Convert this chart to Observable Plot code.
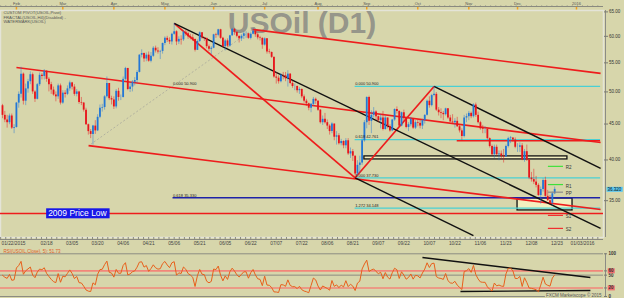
<!DOCTYPE html>
<html><head><meta charset="utf-8">
<script src="https://cdn.jsdelivr.net/npm/d3@7"></script>
<script src="https://cdn.jsdelivr.net/npm/@observablehq/plot@0.6"></script>
<style>
html,body{margin:0;padding:0;background:#d7d6ab;}
#wrap{position:relative;width:624px;height:298px;overflow:hidden;background:#d7d6ab;font-family:"Liberation Sans",Arial,sans-serif;}
#p1,#p2{position:absolute;left:0;}
#p1{top:0}#p2{top:248px}
svg{display:block}
</style></head><body>
<div id="wrap"><div id="p1"></div><div id="p2"></div></div>
<script>
// ---------- DATA (daily bars, index 0 = 01/22/2015) ----------
const firstOpen = 47.78;
const warmupCloses = [45.89, 48.48, 46.25, 48.69, 48.5, 46.39, 47.78];
const closes = [
46.3,45.6,45.2,46.2,44.4,44.5,48.2,
49.6,53.0,48.5,50.5,51.7,52.9,50.0,48.8,51.2,52.8,52.6,53.5,52.1,51.2,50.3,49.5,49.2,51.0,48.2,49.8,
49.6,50.5,51.5,50.8,49.6,50.0,48.3,48.2,47.1,44.9,43.9,43.5,44.7,44.0,46.0,47.4,47.5,49.2,51.4,48.9,48.7,47.6,
50.1,49.1,49.1,52.1,54.0,50.4,50.8,51.6,51.9,53.3,56.4,56.7,55.7,56.4,55.3,56.2,57.7,57.2,57.0,57.1,58.6,59.6,
59.2,58.9,60.4,60.9,58.9,59.4,59.3,60.8,60.5,59.9,59.7,59.4,57.3,59.0,60.7,59.7,59.6,58.0,57.5,57.7,60.3,
60.2,61.3,59.6,58.0,59.1,58.1,60.1,61.4,60.8,60.0,59.5,60.0,60.5,60.5,59.6,60.4,61.0,60.3,59.7,59.6,58.3,59.5,
57.0,56.9,56.0,52.5,52.3,51.7,52.8,52.7,52.2,53.0,51.4,50.9,50.9,50.2,50.4,49.2,48.5,48.1,47.4,48.0,48.8,48.5,47.1,
45.2,45.7,45.2,44.7,43.9,45.0,43.1,43.3,42.2,42.5,41.9,42.6,40.8,41.1,40.5,38.2,39.3,39.6,42.6,45.2,49.1,
45.4,46.3,46.8,46.1,45.5,45.9,44.2,45.9,44.6,44.0,45.6,47.2,46.9,44.7,46.7,45.8,44.5,44.9,45.7,44.4,45.2,45.1,
44.7,45.5,46.3,48.5,47.8,49.4,49.6,47.1,46.7,46.6,46.4,47.3,45.9,45.3,45.2,45.4,44.6,44.0,43.2,45.9,46.1,46.6,
46.1,47.9,46.3,45.2,44.3,44.2,44.2,42.9,41.8,40.7,41.7,40.7,40.8,40.5,40.4,41.8,42.9,43.0,42.7,41.7,41.7,
41.9,40.0,41.1,40.0,37.7,37.5,37.2,36.8,35.6,36.3,37.4,35.5,35.0,34.7,35.8,36.32];
const highs = [
48.0,46.9,46.3,46.5,46.5,44.9,48.3,
50.0,54.2,53.2,51.3,52.1,53.4,53.2,50.2,51.4,53.2,53.1,53.8,53.6,52.4,51.6,50.8,50.0,51.3,51.3,50.2,
50.2,51.0,51.8,51.6,51.2,50.4,50.1,49.1,48.3,47.4,45.0,44.2,44.8,45.5,46.4,47.9,48.0,49.4,52.5,51.4,49.3,49.2,
50.4,50.6,49.5,52.5,54.2,54.0,51.5,51.9,52.4,53.6,56.5,57.4,56.8,56.8,57.0,56.9,58.0,58.1,57.8,57.3,58.7,59.9,
60.0,59.7,60.6,62.6,61.1,59.9,60.1,61.1,61.2,60.9,60.4,60.3,59.5,59.3,60.9,60.7,59.8,59.6,58.3,58.0,60.4,
60.6,61.4,61.4,59.8,59.4,59.5,60.2,61.6,61.5,60.8,60.0,60.3,60.8,60.9,60.4,60.7,61.5,61.1,60.6,60.0,59.7,59.7,
59.4,57.5,57.0,55.6,53.3,52.7,53.1,53.3,53.3,53.6,53.1,51.8,51.3,51.0,50.7,50.5,49.5,48.8,48.2,48.1,49.1,49.0,48.6,
47.2,46.2,46.6,45.6,44.9,45.2,44.9,43.9,43.6,42.8,42.6,42.9,42.9,41.6,41.4,40.2,39.9,40.5,42.9,45.5,49.2,
49.3,47.0,47.5,47.0,46.2,46.4,46.9,46.2,45.8,44.9,45.7,47.3,47.6,47.0,46.8,47.1,46.0,45.2,46.0,45.8,45.5,45.6,
45.6,45.7,46.4,48.7,49.2,49.6,50.9,49.9,47.5,47.3,46.9,47.4,47.3,46.3,46.4,45.8,46.0,44.8,44.3,46.3,46.5,46.9,
46.8,48.1,48.2,46.8,45.4,44.8,44.6,44.3,43.0,42.0,42.0,42.0,41.2,41.2,41.4,42.0,43.1,43.2,43.0,43.0,42.2,
42.3,42.2,41.4,42.0,40.0,38.4,38.8,37.9,37.0,36.6,37.6,37.8,36.2,35.6,36.0,36.6];
const lows = [
45.8,45.2,44.4,44.9,44.2,43.6,44.4,
47.4,49.0,47.9,47.8,49.8,51.2,49.6,48.3,48.7,50.9,52.0,52.0,51.6,50.0,49.6,49.3,48.4,48.8,47.9,48.0,
49.0,49.4,50.1,50.3,49.3,49.2,48.0,47.8,46.8,44.8,43.4,42.9,42.0,43.5,43.9,45.8,46.8,47.1,49.0,48.6,47.9,47.2,
47.3,48.5,48.6,49.0,51.8,50.2,49.9,50.0,51.0,51.4,53.2,55.9,55.1,55.2,55.1,55.0,56.0,56.8,56.6,55.6,56.6,58.2,
58.8,58.4,58.3,60.2,58.2,58.4,58.3,59.0,60.0,59.4,59.3,59.0,57.0,57.4,58.8,59.4,59.0,57.6,57.1,56.5,57.6,
59.6,59.9,59.4,57.8,57.2,57.8,57.9,60.0,60.2,59.7,58.7,59.0,59.4,59.6,59.4,59.3,60.3,59.8,59.3,59.1,57.5,58.1,
56.6,56.6,55.8,52.3,51.3,51.3,51.5,52.0,51.7,50.8,51.2,50.6,50.2,49.8,49.6,48.9,48.2,47.7,47.0,46.7,47.7,48.0,46.9,
45.0,44.8,45.0,44.2,43.4,43.6,42.6,42.0,42.0,41.9,41.5,41.5,40.6,40.2,39.8,37.7,37.9,38.3,39.3,42.4,44.3,
44.8,43.6,45.9,45.5,45.2,44.3,44.0,44.1,44.3,43.8,43.9,45.4,46.5,44.6,44.6,45.4,44.3,43.9,44.6,44.2,44.2,44.6,
44.3,44.2,45.0,46.2,47.4,47.6,49.2,46.9,46.2,45.8,45.5,46.2,45.7,45.3,45.0,44.4,44.5,43.7,42.6,43.0,45.2,45.5,
45.8,45.9,46.0,45.0,44.1,43.6,43.6,42.7,41.6,40.5,40.2,40.5,39.9,40.0,39.6,40.9,41.6,42.2,42.4,41.5,41.0,
41.0,39.9,39.7,39.8,37.5,37.2,36.9,36.5,35.5,34.6,36.0,35.4,34.9,34.5,34.4,35.7];
const currentPrice = 36.32;

const dateTickIdx = [0,19,30,41,52,63,74,85,96,107,118,129,140,151,162,173,184,195,206,217,228,239,250];
const dateTickLabels = ["01/22/2015","02/18","03/05","03/20","04/06","04/21","05/06","05/21","06/05","06/22","07/07","07/22","08/06","08/21","09/07","09/22","10/07","10/22","11/06","11/23","12/08","12/23","01/03/2016"];
const monthTickIdx = [6,26,48,70,91,113,136,157,179,201,222,247.4];
const monthTickLabels = ["Feb","Mar","Apr","May","Jun","Jul","Aug","Sep","Oct","Nov","Dec","2016"];
const priceTicks = [35,40,45,50,55,60,65];

// drawn studies (anchor bar index, price)
const trendKind = ["red","red","red","red","red","black","black","black","dash"];
const trendX1 = [107.8, 6.0, 37.1, 74, 152, 74, 152, 186, 38];
const trendY1 = [61.36, 54.17, 41.93, 62.6, 37.73, 62.6, 37.73, 50.9, 42.1];
const trendX2 = [257.8, 257.8, 257.8, 152, 186, 257.8, 203, 257.8, 107.8];
const trendY2 = [53.12, 42.36, 34.0, 37.73, 50.9, 31.96, 31.2, 38.9, 61.36];

const fibRLevels = [50.9, 42.761, 37.73, 34.148];
const fibRLabels = ["0.000 50.900","0.618 42.761","1.000 37.730","1.272 34.148"];
const fibRStart = 152;
const fibLLevels = [50.9, 35.33];
const fibLLabels = ["0.000 50.900","0.618 35.330"];
const fibLStart = 73.5;
const extLevel = 35.33;
const lowLevel = 33.55, lowLabel = "2009 Price Low", lowLabelX = 32.3;
const resLevel = 42.6, resStart = 196;
const edgeX = 257.8;

const zoneX1 = [156, 222], zoneX2 = [243.5, 245.7], zoneLo = [40.07, 33.9], zoneHi = [40.47, 35.25];

const pivotLabels = ["R2","R1","PP","S1","S2"];
const pivotLevels = [39.17, 36.9, 35.99, 33.35, 31.96];
const pivotKind = ["r","r","p","s","s"];
const pivotX1 = 235.3, pivotX2 = 241.8, pivotLabelX = 242.8;

const infoLines = ["CUSTOM PIVOT(USOIL,Pivot)","FRACTAL(USOIL,H4)(Disabled) -","WATERMARK(USOIL)"];
const watermark = "USOil (D1)";

const rsiPeriod = 5;
const rsiLevels = [60, 20];
const rsiGrid = [100, 50, 0];
const rsiTickVals = [100, 50, 0];
const rsiTrendX1 = [181, 197.4], rsiTrendY1 = [91.3, 11.7], rsiTrendX2 = [253.4, 253.4], rsiTrendY2 = [44.5, 14];
const rsiHeader = "RSI(USOIL,Close), 5): 51.73";
const copyright = "FXCM Marketscope \u00a9 2015";

// ---------- BUILD ----------
const X0 = -0.862, X1 = 259.05, Y0 = 31.02, Y1 = 65.30;
const UP = "#2377d6", DN = "#e8141b";
const candles = closes.map((c, i) => {
  const o = i ? closes[i - 1] : firstOpen;
  return {i, o, c, h: Math.max(highs[i], o, c), l: Math.min(lows[i], o, c), col: c >= o ? UP : DN};
});
const trends = trendKind.map((k, j) => ({k, x1: trendX1[j], y1: trendY1[j], x2: trendX2[j], y2: trendY2[j]}));
const zones = zoneX1.map((x, j) => ({x1: x, x2: zoneX2[j], y1: zoneLo[j], y2: zoneHi[j]}));
const pivots = pivotLabels.map((t, j) => ({t, p: pivotLevels[j], k: pivotKind[j]}));
const pivotColor = {r: "#3ee03a", p: "#8a8a8a", s: "#f03030"};
const minorTicks = d3.range(19 - 2.2 * 9, 258, 2.2);
const font = "'Liberation Sans', Arial, sans-serif";

const p1 = Plot.plot({
  width: 624, height: 248,
  marginTop: 10, marginBottom: 11, marginLeft: 0, marginRight: 21,
  x: {type: "linear", domain: [X0, X1], axis: null},
  y: {type: "log", domain: [Y0, Y1], axis: null},
  color: {type: "identity"},
  style: {background: "transparent", fontFamily: font, overflow: "visible"},
  marks: [
    Plot.frame({stroke: "#e4e4d8", strokeWidth: 1.5}),
    Plot.text([watermark], {frameAnchor: "top", dy: 13, lineAnchor: "middle", fontSize: 30, fontWeight: "bold", fill: "#8d8d86", fillOpacity: 0.9}),
    Plot.text([infoLines.join("\n")], {frameAnchor: "top-left", dx: 3, dy: 1, lineAnchor: "top", lineHeight: 1, fontSize: 4.2, fill: "#555"}),
    Plot.rect(zones, {x1: "x1", x2: "x2", y1: "y1", y2: "y2", fill: "#f3efbf", stroke: "#111", strokeWidth: 1.3}),
    Plot.ruleY(fibRLevels, {x1: fibRStart, x2: edgeX, stroke: "#49d0d4", strokeWidth: 1.2}),
    Plot.ruleY([extLevel], {x1: fibLStart, x2: edgeX, stroke: "#1e22a8", strokeWidth: 1.6}),
    Plot.ruleY([resLevel], {x1: resStart, x2: edgeX, stroke: "#ee1c1c", strokeWidth: 1.3}),
    Plot.ruleY([lowLevel], {stroke: "#ee1c1c", strokeWidth: 1.5}),
    Plot.link(trends.filter(d => d.k === "dash"), {x1: "x1", y1: "y1", x2: "x2", y2: "y2", stroke: "#a8a89c", strokeWidth: 0.8, strokeDasharray: "2,2"}),
    Plot.link(trends.filter(d => d.k === "red"), {x1: "x1", y1: "y1", x2: "x2", y2: "y2", stroke: "#ee1c1c", strokeWidth: 1.7}),
    Plot.link(trends.filter(d => d.k === "black"), {x1: "x1", y1: "y1", x2: "x2", y2: "y2", stroke: "#111", strokeWidth: 1.4}),
    Plot.ruleX(candles, {x: "i", y1: "l", y2: "h", stroke: "col", strokeWidth: 0.8, strokeOpacity: 0.6}),
    Plot.ruleX(candles, {x: "i", y1: "o", y2: "c", stroke: "col", strokeWidth: 1.8}),
    Plot.ruleY(pivots, {y: "p", x1: pivotX1, x2: pivotX2, stroke: d => pivotColor[d.k], strokeWidth: 1.2}),
    Plot.text(pivots, {x: pivotLabelX, y: "p", text: "t", textAnchor: "start", fontSize: 4.5, fill: "#333", dy: 1.5}),
    Plot.text(fibRLevels, {x: fibRStart, y: d => d, text: (d, j) => fibRLabels[j], textAnchor: "start", dy: -2.5, fontSize: 4, fill: "#222"}),
    Plot.text(fibLLevels, {x: fibLStart, y: d => d, text: (d, j) => fibLLabels[j], textAnchor: "start", dy: -2.5, fontSize: 4, fill: "#222"}),
    Plot.text([lowLabel], {x: lowLabelX, y: lowLevel, fill: "white", fontSize: 8.5, className: "lowlab"}),
    // right price axis
    Plot.ruleX([X1], {dx: 2, stroke: "#8c8c84"}),
    Plot.axisY({anchor: "right", ticks: priceTicks, tickFormat: d => d.toFixed(2), tickSize: 4, tickPadding: 1.5, fontSize: 4.5, stroke: "#7a7a72", fill: "#333", label: null}),
    Plot.text([currentPrice], {x: X1, y: d => d, text: d => d.toFixed(3), dx: 4, textAnchor: "start", fontSize: 4.5, fill: "#111", className: "curlab"}),
    // top month ruler
    Plot.ruleY([Y1], {dy: -4, stroke: "#8a8a80"}),
    Plot.axisX({anchor: "top", ticks: minorTicks, tickSize: 1.5, dy: -4, fill: "none", stroke: "#8a8a80", label: null}),
    Plot.axisX({anchor: "top", ticks: monthTickIdx, tickSize: 2.5, dy: -1.5, fill: "none", stroke: "#f0a020", strokeWidth: 1.5, label: null}),
    Plot.axisX({anchor: "top", ticks: monthTickIdx, tickFormat: (d, j) => monthTickLabels[monthTickIdx.indexOf(d)], tickSize: 0, tickPadding: 5.5, fontSize: 4, fill: "#555", label: null}),
    // bottom date ruler
    Plot.ruleY([Y0], {dy: 2, stroke: "#8a8a80"}),
    Plot.axisX({anchor: "bottom", ticks: minorTicks, tickSize: 2, fill: "none", stroke: "#8a8a80", label: null}),
    Plot.axisX({anchor: "bottom", ticks: dateTickIdx.slice(1), tickFormat: d => dateTickLabels[dateTickIdx.indexOf(d)], tickSize: 0, tickPadding: 4, fontSize: 4.8, fill: "#444", label: null}),
    Plot.axisX({anchor: "bottom", ticks: dateTickIdx.slice(0, 1), tickFormat: d => dateTickLabels[dateTickIdx.indexOf(d)], tickSize: 0, tickPadding: 4, fontSize: 4.8, fill: "#444", textAnchor: "start", dx: -1, label: null})
  ]
});
document.getElementById("p1").appendChild(p1);

// RSI
const rsiSrc = warmupCloses.concat(closes);
const rsiAll = new Array(rsiSrc.length).fill(null);
{
  let g = 0, l = 0;
  for (let j = 1; j <= rsiPeriod; j++) { const d = rsiSrc[j] - rsiSrc[j - 1]; if (d > 0) g += d; else l -= d; }
  g /= rsiPeriod; l /= rsiPeriod;
  rsiAll[rsiPeriod] = l === 0 ? 100 : 100 - 100 / (1 + g / l);
  for (let j = rsiPeriod + 1; j < rsiSrc.length; j++) {
    const d = rsiSrc[j] - rsiSrc[j - 1];
    g = (g * (rsiPeriod - 1) + Math.max(d, 0)) / rsiPeriod;
    l = (l * (rsiPeriod - 1) + Math.max(-d, 0)) / rsiPeriod;
    rsiAll[j] = l === 0 ? 100 : 100 - 100 / (1 + g / l);
  }
}
const rsi = closes.map((c, i) => ({i, v: rsiAll[i + warmupCloses.length]}));
const rsiTrends = rsiTrendX1.map((x, j) => ({x1: x, y1: rsiTrendY1[j], x2: rsiTrendX2[j], y2: rsiTrendY2[j]}));

const p2 = Plot.plot({
  width: 624, height: 50,
  marginTop: 5.3, marginBottom: 2, marginLeft: 0, marginRight: 21,
  x: {type: "linear", domain: [X0, X1], axis: null},
  y: {domain: [0, 100], axis: null},
  style: {background: "transparent", fontFamily: font, overflow: "visible"},
  marks: [
    Plot.ruleY(rsiGrid, {stroke: "#8c8c82", strokeWidth: 1}),
    Plot.ruleY(rsiLevels, {stroke: "#f2867a", strokeWidth: 1.6}),
    Plot.link(rsiTrends, {x1: "x1", y1: "y1", x2: "x2", y2: "y2", stroke: "#111", strokeWidth: 1.4}),
    Plot.line(rsi, {x: "i", y: "v", stroke: "#e8601c", strokeWidth: 1}),
    Plot.ruleX([X1], {dx: 2, stroke: "#8c8c84"}),
    Plot.axisY({anchor: "right", ticks: rsiTickVals, tickFormat: d => String(d), tickSize: 3, tickPadding: 2, fontSize: 4.5, fontWeight: "bold", stroke: "#7a7a72", fill: "#333", label: null}),
    Plot.axisY({anchor: "right", ticks: rsiLevels, tickFormat: d => String(d), tickSize: 3, tickPadding: 2, fontSize: 4.5, fontWeight: "bold", stroke: "#7a7a72", fill: "#333", label: null, className: "rsilev"}),
    Plot.text([rsiHeader], {frameAnchor: "top-left", dx: 3, dy: -2.5, lineAnchor: "middle", fontSize: 4.5, fill: "#e05a28"}),
    Plot.text([copyright], {frameAnchor: "bottom-right", dx: -2, dy: -0.5, textAnchor: "end", lineAnchor: "middle", fontSize: 4.5, fill: "#555", className: "copy"})
  ]
});
document.getElementById("p2").appendChild(p2);

// label backgrounds
function addBg(svg, cls, fill, px, py) {
  svg.querySelectorAll("." + cls + " text").forEach(t => {
    const b = t.getBBox();
    const r = document.createElementNS("http://www.w3.org/2000/svg", "rect");
    r.setAttribute("x", b.x - px); r.setAttribute("y", b.y - py);
    r.setAttribute("width", b.width + 2 * px); r.setAttribute("height", b.height + 2 * py);
    r.setAttribute("fill", fill);
    const tr = t.getAttribute("transform"); if (tr) r.setAttribute("transform", tr);
    t.parentNode.insertBefore(r, t);
  });
}
addBg(p1, "lowlab", "#1717e8", 2, 0);
addBg(p1, "curlab", "#5cc8f0", 1, 0);
addBg(p2, "rsilev", "#f07070", 0.8, 0);
addBg(p2, "copy", "#d7d6ab", 1, 0);
</script></body></html>
